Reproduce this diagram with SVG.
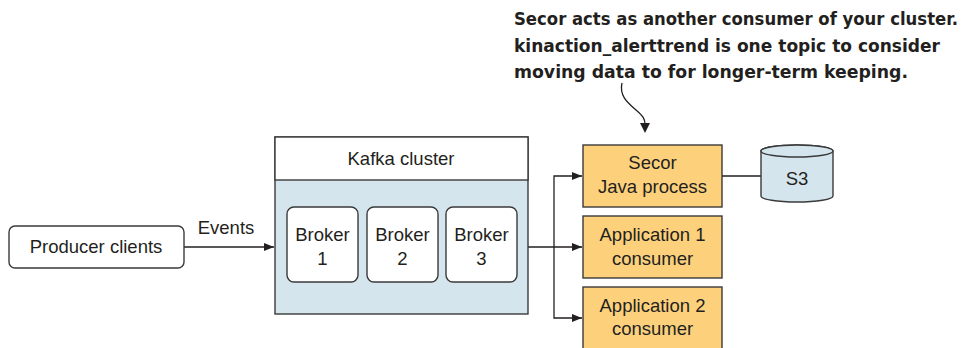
<svg xmlns="http://www.w3.org/2000/svg" width="967" height="348" viewBox="0 0 967 348">
<defs>
<style>
.t{font-family:"Liberation Sans",Arial,sans-serif;font-size:18.5px;fill:#231f20;text-anchor:middle}
.n{font-family:"DejaVu Sans Condensed","DejaVu Sans","Liberation Sans",sans-serif;font-weight:bold;font-size:18.5px;fill:#231f20}
.box{stroke:#3a3a3a;stroke-width:1.4}
.w{fill:#fff}
.o{fill:#fdd17c}
.b{fill:#d4e5ed}
.ln{fill:none;stroke:#231f20;stroke-width:1.3}
</style>
<marker id="ah" viewBox="0 0 10 10" refX="10" refY="5" markerWidth="10" markerHeight="10" markerUnits="userSpaceOnUse" orient="auto">
<path d="M0,1 L10,5 L0,9 Z" fill="#231f20"/>
</marker>
</defs>
<rect width="967" height="348" fill="#fff"/>

<g id="annotation">
<text class="n" x="514" y="25" textLength="444" lengthAdjust="spacingAndGlyphs">Secor acts as another consumer of your cluster.</text>
<text class="n" x="514" y="52" textLength="426" lengthAdjust="spacingAndGlyphs">kinaction_alerttrend is one topic to consider</text>
<text class="n" x="514" y="78" textLength="394" lengthAdjust="spacingAndGlyphs">moving data to for longer-term keeping.</text>
</g>

<g id="connectors">
<path class="ln" d="M184,247 H274" marker-end="url(#ah)"/>
<path class="ln" d="M528,247 H582" marker-end="url(#ah)"/>
<path class="ln" d="M554,247 V176 H582" marker-end="url(#ah)"/>
<path class="ln" d="M554,247 V318 H582" marker-end="url(#ah)"/>
<path class="ln" d="M722,176 H761"/>
<path class="ln" d="M622,83 C619,96 628,103 636,110 C643,116 645,119 645,124"/>
<path d="M640,123 L650,123 L645,133 Z" fill="#231f20"/>
<text class="t" x="226" y="234">Events</text>
</g>

<g id="producer">
<rect class="box w" x="9" y="226" width="175" height="42" rx="6"/>
<text class="t" x="96" y="253">Producer clients</text>
</g>

<g id="kafka">
<rect class="box b" x="275" y="137" width="253" height="177"/>
<rect class="box w" x="275" y="137" width="253" height="43"/>
<text class="t" x="401" y="165">Kafka cluster</text>
</g>

<g id="broker1">
<rect class="box w" x="287" y="207" width="71" height="75" rx="7"/>
<text class="t" x="322.5" y="241">Broker</text>
<text class="t" x="322.5" y="265">1</text>
</g>
<g id="broker2">
<rect class="box w" x="367" y="207" width="71" height="75" rx="7"/>
<text class="t" x="402.5" y="241">Broker</text>
<text class="t" x="402.5" y="265">2</text>
</g>
<g id="broker3">
<rect class="box w" x="446" y="207" width="71" height="75" rx="7"/>
<text class="t" x="481.5" y="241">Broker</text>
<text class="t" x="481.5" y="265">3</text>
</g>

<g id="secor">
<rect class="box o" x="583" y="145" width="139" height="62"/>
<text class="t" x="652.5" y="169">Secor</text>
<text class="t" x="652.5" y="193">Java process</text>
</g>
<g id="app1">
<rect class="box o" x="583" y="216" width="139" height="62"/>
<text class="t" x="652.5" y="241">Application 1</text>
<text class="t" x="652.5" y="265">consumer</text>
</g>
<g id="app2">
<rect class="box o" x="583" y="287" width="139" height="70"/>
<text class="t" x="652.5" y="312">Application 2</text>
<text class="t" x="652.5" y="335">consumer</text>
</g>

<g id="s3">
<path class="box b" d="M761,151 V196 A36,6 0 0 0 833,196 V151 A36,6 0 0 0 761,151 Z"/>
<ellipse class="box b" cx="797" cy="151" rx="36" ry="6"/>
<text class="t" x="797" y="185">S3</text>
</g>
</svg>
